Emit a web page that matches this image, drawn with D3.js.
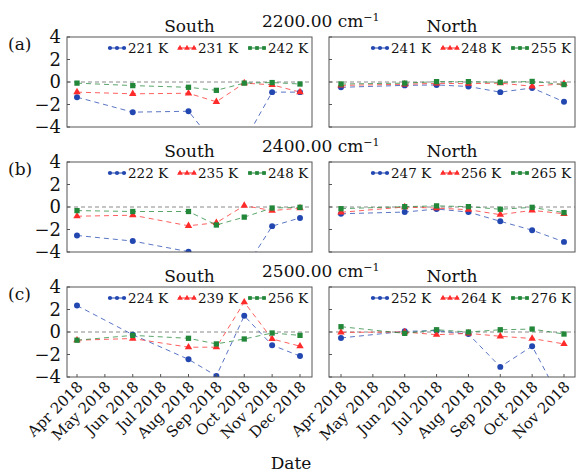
<!DOCTYPE html>
<html>
<head>
<meta charset="utf-8">
<script src="https://d3js.org/d3.v7.min.js"></script>
<style>
  body { margin: 0; background: #fff; }
  svg text { font-family: "DejaVu Serif", serif; fill: #111; }
</style>
</head>
<body>
<svg id="chart" width="576" height="473"></svg>
<script>
// months on the x axis of each side
var southMonths = ["Apr 2018", "May 2018", "Jun 2018", "Jul 2018", "Aug 2018", "Sep 2018", "Oct 2018", "Nov 2018", "Dec 2018"];
var northMonths = ["Apr 2018", "May 2018", "Jun 2018", "Jul 2018", "Aug 2018", "Sep 2018", "Oct 2018", "Nov 2018"];

// months that have data
var southDates = ["Apr 2018", "Jun 2018", "Aug 2018", "Sep 2018", "Oct 2018", "Nov 2018", "Dec 2018"];
var northDates = ["Apr 2018", "Jun 2018", "Jul 2018", "Aug 2018", "Sep 2018", "Oct 2018", "Nov 2018"];

var wavenumbers = ["2200.00", "2400.00", "2500.00"];
var panelTags = ["(a)", "(b)", "(c)"];

var southNames = [["221 K", "231 K", "242 K"], ["222 K", "235 K", "248 K"], ["224 K", "239 K", "256 K"]];
var northNames = [["241 K", "248 K", "255 K"], ["247 K", "256 K", "265 K"], ["252 K", "264 K", "276 K"]];

// values per panel: [blue, red, green]
var south2200 = [
    [-1.35, -2.68, -2.6, -5.7, -5.3, -0.9, -0.9],
    [-0.9, -1.05, -1.0, -1.76, -0.1, -0.25, -0.9],
    [-0.1, -0.32, -0.47, -0.74, -0.1, -0.05, -0.18]
];
var north2200 = [
    [-0.47, -0.3, -0.26, -0.4, -0.9, -0.53, -1.76],
    [-0.3, -0.2, -0.12, -0.15, -0.1, -0.38, -0.15],
    [-0.18, -0.1, 0.03, 0.03, -0.03, 0.05, -0.23]
];
var south2400 = [
    [-2.53, -3.03, -3.97, -5.0, -5.6, -1.7, -0.97],
    [-0.82, -0.73, -1.67, -1.4, 0.12, -0.32, -0.1],
    [-0.32, -0.4, -0.4, -1.6, -0.9, -0.09, -0.03]
];
var north2400 = [
    [-0.6, -0.45, -0.18, -0.45, -1.27, -2.06, -3.1],
    [-0.47, 0.0, -0.1, -0.24, -0.68, -0.3, -0.6],
    [-0.15, 0.03, 0.1, 0.03, -0.2, -0.03, -0.5]
];
var south2500 = [
    [2.35, -0.24, -2.43, -3.9, 1.44, -1.17, -2.14],
    [-0.73, -0.58, -1.35, -1.35, 2.65, -0.62, -1.26],
    [-0.73, -0.3, -0.56, -1.06, -0.62, -0.09, -0.3]
];
var north2500 = [
    [-0.53, 0.06, 0.12, -0.18, -3.1, -1.26, -6.6],
    [-0.03, 0.0, -0.24, -0.12, -0.38, -0.58, -1.06],
    [0.47, -0.12, 0.2, 0.0, 0.2, 0.26, -0.18]
];

var yTicks = [-4, -2, 0, 2, 4];

var southSeries = [south2200, south2400, south2500];
var northSeries = [north2200, north2400, north2500];

var colors = ["#2347b0", "#ff2a2a", "#23873a"];
var symbols = [d3.symbolCircle, d3.symbolTriangle, d3.symbolSquare];

var svg = d3.select("#chart");

var panelTops = [37, 162, 287];
var panelH = 90;

var sides = [
    { name: "South", x0: 67, x1: 312, months: southMonths, dates: southDates, names: southNames, series: southSeries,
      x: d3.scalePoint().domain(southMonths).range([77, 300]) },
    { name: "North", x0: 329, x1: 575, months: northMonths, dates: northDates, names: northNames, series: northSeries,
      x: d3.scalePoint().domain(northMonths).range([341, 564]) }
];

var clipId = 0;

panelTops.forEach(function(top, p) {
    var y = d3.scaleLinear().domain([-4, 4]).range([top + panelH, top]);

    // panel tag and title
    svg.append("text").attr("x", 8).attr("y", top + 13)
        .style("font-size", "17px").text(panelTags[p]);
    var t = svg.append("text").attr("x", 262).attr("y", top - 10)
        .style("font-size", "17px");
    t.append("tspan").text(wavenumbers[p] + " cm");
    t.append("tspan").attr("dy", -6).style("font-size", "11px").text("\u22121");

    sides.forEach(function(side, s) {
        var g = svg.append("g");

        svg.append("text")
            .attr("x", (side.x0 + side.x1) / 2).attr("y", top - 5)
            .attr("text-anchor", "middle")
            .style("font-size", "17px")
            .text(side.name);

        var id = "clip" + (clipId++);
        svg.append("clipPath").attr("id", id)
            .append("rect")
            .attr("x", side.x0).attr("y", top)
            .attr("width", side.x1 - side.x0).attr("height", panelH);

        // zero line
        g.append("line")
            .attr("x1", side.x0).attr("x2", side.x1)
            .attr("y1", y(0)).attr("y2", y(0))
            .attr("stroke", "#8a8a8a").attr("stroke-width", 1)
            .attr("stroke-dasharray", "4,3");

        // y ticks
        g.selectAll(".yt").data(yTicks).enter().append("line")
            .attr("x1", side.x0).attr("x2", side.x0 + 3)
            .attr("y1", function(d) { return y(d); })
            .attr("y2", function(d) { return y(d); })
            .attr("stroke", "#555");

        if (s === 0) {
            g.selectAll(".yl").data(yTicks).enter().append("text")
                .attr("x", side.x0 - 6)
                .attr("y", function(d) { return y(d); })
                .attr("dy", "0.36em")
                .attr("text-anchor", "end")
                .style("font-size", "18px")
                .text(function(d) { return d < 0 ? "\u2212" + Math.abs(d) : d; });
        }

        var data = side.series[p];
        var plot = g.append("g").attr("clip-path", "url(#" + id + ")");
        var line = d3.line()
            .x(function(d, i) { return side.x(side.dates[i]); })
            .y(function(d) { return y(d); });

        data.forEach(function(vals, k) {
            plot.append("path")
                .attr("d", line(vals))
                .attr("fill", "none")
                .attr("stroke", colors[k])
                .attr("stroke-opacity", 0.75)
                .attr("stroke-width", 1)
                .attr("stroke-dasharray", "5,4");
        });
        data.forEach(function(vals, k) {
            plot.selectAll(".m" + k).data(vals).enter().append("path")
                .attr("d", d3.symbol().type(symbols[k]).size(k === 1 ? 24 : 28))
                .attr("transform", function(d, i) {
                    return "translate(" + side.x(side.dates[i]) + "," + y(d) + ")";
                })
                .attr("fill", colors[k]);
        });

        // frame
        g.append("rect")
            .attr("x", side.x0).attr("y", top)
            .attr("width", side.x1 - side.x0).attr("height", panelH)
            .attr("fill", "none").attr("stroke", "#555").attr("stroke-width", 1);

        // legend
        var lx = side.x1 - 204;
        side.names[p].forEach(function(name, k) {
            var lg = g.append("g").attr("transform", "translate(" + (lx + k * 70) + "," + (top + 11) + ")");
            lg.append("line").attr("x1", 0).attr("x2", 18)
                .attr("stroke", colors[k]).attr("stroke-width", 1);
            [2, 9, 16].forEach(function(mx) {
                lg.append("path")
                    .attr("d", d3.symbol().type(symbols[k]).size(14))
                    .attr("transform", "translate(" + mx + ",0)")
                    .attr("fill", colors[k]);
            });
            lg.append("text").attr("x", 20).attr("dy", "0.36em")
                .style("font-size", "13.5px").text(name);
        });

        // x axis only on bottom row
        if (p === panelTops.length - 1) {
            var by = top + panelH;
            g.selectAll(".xt").data(side.months).enter().append("line")
                .attr("x1", function(d) { return side.x(d); })
                .attr("x2", function(d) { return side.x(d); })
                .attr("y1", by).attr("y2", by - 3)
                .attr("stroke", "#555");
            g.selectAll(".xl").data(side.months).enter().append("text")
                .attr("transform", function(d) {
                    return "translate(" + (side.x(d) + 3) + "," + (by + 7) + ") rotate(-45)";
                })
                .attr("text-anchor", "end")
                .attr("dy", "0.35em")
                .style("font-size", "15px")
                .text(function(d) { return d; });
        }
    });
});

svg.append("text").attr("x", 291).attr("y", 469)
    .attr("text-anchor", "middle").style("font-size", "17px").text("Date");
</script>
</body>
</html>
